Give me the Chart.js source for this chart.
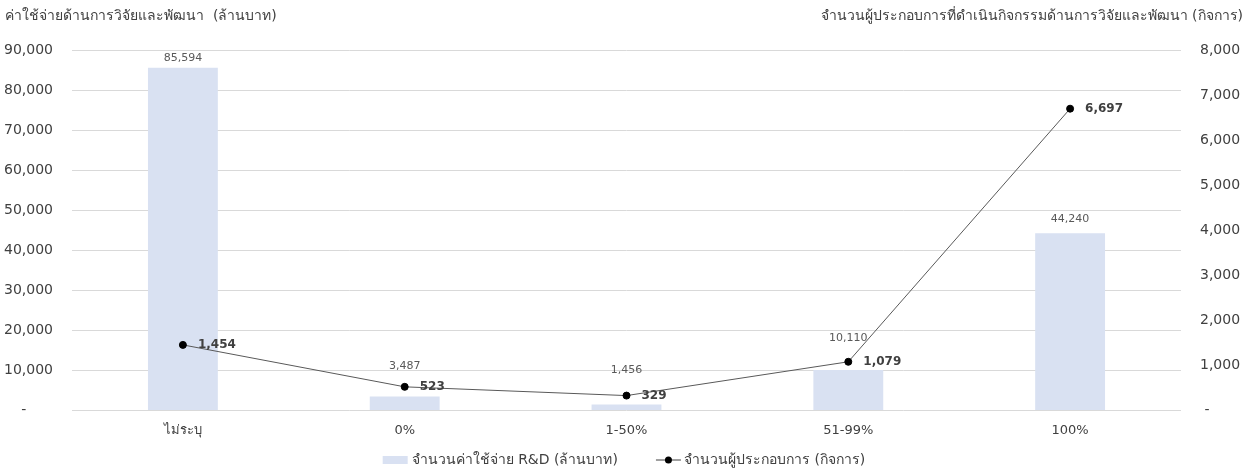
<!DOCTYPE html>
<html>
<head>
<meta charset="utf-8">
<script src="https://cdn.jsdelivr.net/npm/chart.js@4.4.0/dist/chart.umd.min.js"></script>
<style>
  html, body { margin: 0; padding: 0; background: #fff; }
  #wrap { width: 1248px; height: 471px; position: relative; }
</style>
</head>
<body>
<div id="wrap"><canvas id="rdChart"></canvas></div>
<script>
// R&D spending and number of firms, grouped by share of foreign ownership
const categories = ['ไม่ระบุ', '0%', '1-50%', '51-99%', '100%'];
const spending = [85594, 3487, 1456, 10110, 44240];
const firms = [1454, 523, 329, 1079, 6697];

const spendingLabel = 'จำนวนค่าใช้จ่าย R&D (ล้านบาท)';
const firmsLabel = 'จำนวนผู้ประกอบการ (กิจการ)';
const leftTitle = 'ค่าใช้จ่ายด้านการวิจัยและพัฒนา  (ล้านบาท)';
const rightTitle = 'จำนวนผู้ประกอบการที่ดำเนินกิจกรรมด้านการวิจัยและพัฒนา (กิจการ)';

const leftAxis = { max: 90000, step: 10000 };
const rightAxis = { max: 8000, step: 1000 };

// how far each bar value sits above its bar (kept clear of the line)
const barLabelLift = [10, 30, 34, 32, 14];

const FONT = 'Tahoma, "DejaVu Sans", "Noto Sans", sans-serif';
const BAR_COLOR = '#D9E1F2';
const TEXT = '#404040';

const fmt = v => v === 0 ? '-' : v.toLocaleString('en-US');

const valueLabels = {
  id: 'valueLabels',
  afterDatasetsDraw(chart) {
    const ctx = chart.ctx;
    ctx.save();
    const bars = chart.getDatasetMeta(1);
    ctx.font = '11px ' + FONT;
    ctx.fillStyle = '#595959';
    ctx.textAlign = 'center';
    ctx.textBaseline = 'middle';
    bars.data.forEach((el, i) => {
      ctx.fillText(fmt(spending[i]), el.x, el.y - barLabelLift[i]);
    });
    const pts = chart.getDatasetMeta(0);
    ctx.font = 'bold 12px ' + FONT;
    ctx.fillStyle = TEXT;
    ctx.textAlign = 'left';
    pts.data.forEach((el, i) => {
      ctx.fillText(fmt(firms[i]), el.x + 15, el.y);
    });
    ctx.restore();
  }
};

// horizontal axis titles above the plot, plus the legend strip at the bottom
const titlesAndLegend = {
  id: 'titlesAndLegend',
  afterDraw(chart) {
    const ctx = chart.ctx;
    const w = chart.width;
    ctx.save();
    ctx.font = '14px ' + FONT;
    ctx.fillStyle = TEXT;
    ctx.textBaseline = 'middle';
    ctx.textAlign = 'left';
    ctx.fillText(leftTitle, 5, 16);
    ctx.textAlign = 'right';
    ctx.fillText(rightTitle, w - 5, 16);

    const y = 460;
    const t1 = ctx.measureText(spendingLabel).width;
    const t2 = ctx.measureText(firmsLabel).width;
    const total = 25 + 4 + t1 + 38 + 25 + 3 + t2;
    let x = w / 2 - total / 2;
    ctx.fillStyle = BAR_COLOR;
    ctx.fillRect(x, y - 4, 25, 8);
    x += 29;
    ctx.fillStyle = TEXT;
    ctx.textAlign = 'left';
    ctx.fillText(spendingLabel, x, y);
    x += t1 + 38;
    ctx.strokeStyle = '#404040';
    ctx.lineWidth = 1;
    ctx.beginPath();
    ctx.moveTo(x, y);
    ctx.lineTo(x + 25, y);
    ctx.stroke();
    ctx.fillStyle = '#000';
    ctx.beginPath();
    ctx.arc(x + 12.5, y, 3.5, 0, Math.PI * 2);
    ctx.fill();
    x += 28;
    ctx.fillStyle = TEXT;
    ctx.fillText(firmsLabel, x, y);
    ctx.restore();
  }
};

new Chart(document.getElementById('rdChart'), {
  data: {
    labels: categories,
    datasets: [
      {
        type: 'line',
        label: firmsLabel,
        data: firms,
        yAxisID: 'y1',
        borderColor: '#595959',
        borderWidth: 1,
        pointBackgroundColor: '#000',
        pointBorderColor: '#000',
        pointRadius: 3.5,
        tension: 0,
        order: 1
      },
      {
        type: 'bar',
        label: spendingLabel,
        data: spending,
        yAxisID: 'y',
        backgroundColor: BAR_COLOR,
        categoryPercentage: 1,
        barPercentage: 0.315,
        order: 2
      }
    ]
  },
  options: {
    responsive: true,
    maintainAspectRatio: false,
    animation: false,
    layout: { padding: { top: 50, bottom: 21, left: 0, right: 0 } },
    plugins: {
      legend: { display: false },
      tooltip: { enabled: false }
    },
    scales: {
      x: {
        grid: { display: false, drawTicks: false },
        border: { display: false },
        ticks: { color: TEXT, padding: 12, font: { family: FONT, size: 13 } }
      },
      y: {
        position: 'left',
        min: 0,
        max: leftAxis.max,
        afterFit(scale) { scale.width = 72; },
        grid: { color: '#D9D9D9', drawTicks: false },
        border: { display: false },
        ticks: {
          stepSize: leftAxis.step,
          padding: 19,
          color: TEXT,
          font: { family: FONT, size: 14 },
          callback: v => v === 0 ? '-      ' : fmt(v)
        }
      },
      y1: {
        position: 'right',
        min: 0,
        max: rightAxis.max,
        afterFit(scale) { scale.width = 67; },
        grid: { display: false, drawTicks: false },
        border: { display: false },
        ticks: {
          stepSize: rightAxis.step,
          padding: 19,
          color: TEXT,
          font: { family: FONT, size: 14 },
          callback: v => v === 0 ? ' -' : fmt(v)
        }
      }
    }
  },
  plugins: [valueLabels, titlesAndLegend]
});
</script>
</body>
</html>
